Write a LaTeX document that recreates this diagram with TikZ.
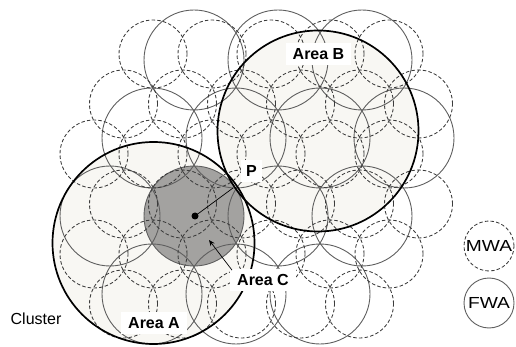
\documentclass[tikz,border=0pt]{standalone}
\usepackage{fontspec}
\setmainfont{Liberation Sans}
\usetikzlibrary{arrows.meta}
\definecolor{areafill}{RGB}{248,247,243}
\definecolor{cfill}{RGB}{163,162,160}
\definecolor{fwaline}{RGB}{95,95,95}
\definecolor{mwaline}{RGB}{60,60,60}
\tikzset{
  fwa/.style={draw=fwaline, line width=0.9pt},
  mwa/.style={draw=mwaline, line width=0.85pt, dash pattern=on 3.5pt off 2.2pt},
  arealine/.style={draw=black, line width=1.7pt},
  lbl/.style={fill=white, inner xsep=7pt, inner ysep=5pt, font=\bfseries\fontsize{16}{18}\selectfont},
  plain/.style={font=\fontsize{16}{18}\selectfont},
  legend/.style={circle, minimum size=50pt, inner sep=0pt, font=\fontsize{16}{18}\selectfont},
  dotnode/.style={circle, fill=black, inner sep=0pt, minimum size=7pt},
}
\begin{document}
\begin{tikzpicture}[x=1pt,y=-1pt]
\useasboundingbox (0,0) rectangle (516,347);
% area fills
\fill[areafill] (153.5,243) circle[radius=101pt];
\fill[areafill] (318,131) circle[radius=100.5pt];
\fill[cfill] (194,216) circle[radius=50pt];
% FWA grid
\foreach \px/\py in {194/60,278/60,362/60,
                     152/138,236/138,320/138,404/138,
                     110/216,194/216,278/216,362/216,
                     152/294,236/294,320/294}
  \draw[fwa] (\px,\py) circle[radius=50pt];
% MWA grid
\foreach \px in {153,212,271,330,389} \draw[mwa] (\px,54) circle[radius=34pt];
\foreach \px in {123.5,182.5,241.5,300.5,359.5,418.5} \draw[mwa] (\px,104) circle[radius=34pt];
\foreach \px in {94,153,212,271,330,389} \draw[mwa] (\px,154) circle[radius=34pt];
\foreach \px in {123.5,182.5,241.5,300.5,359.5,418.5} \draw[mwa] (\px,204) circle[radius=34pt];
\foreach \px in {94,153,212,271,330,389} \draw[mwa] (\px,254) circle[radius=34pt];
\foreach \px in {123.5,182.5,241.5,300.5,359.5} \draw[mwa] (\px,304) circle[radius=34pt];
% area borders
\draw[arealine] (153.5,243) circle[radius=101pt];
\draw[arealine] (318,131) circle[radius=100.5pt];
% point and connectors
\node[dotnode] (dot) at (195,216) {};
\coordinate (p) at (233,188);
\coordinate (ctip) at (209,240);
\draw[line width=0.7pt] (dot.center) -- (p);
% labels
\node[lbl] (lblB) at (318.5,54) {Area B};
\node[lbl, inner xsep=5pt] (lblP) at (251.5,171) {P};
\node[lbl] (lblC) at (263,280) {Area C};
\node[lbl] (lblA) at (154,323) {Area A};
\node[plain] (cluster) at (36,318.5) {Cluster};
\draw[line width=0.7pt, -{Stealth[length=6pt,width=5pt]}] (lblC.north west) ++(2,1) -- (ctip);
% legend
\node[legend, mwa] (mwa) at (489,246) {\scalebox{1.2}[1]{MWA}};
\node[legend, fwa] (fwa) at (489,303) {\scalebox{1.2}[1]{FWA}};
\end{tikzpicture}
\end{document}
